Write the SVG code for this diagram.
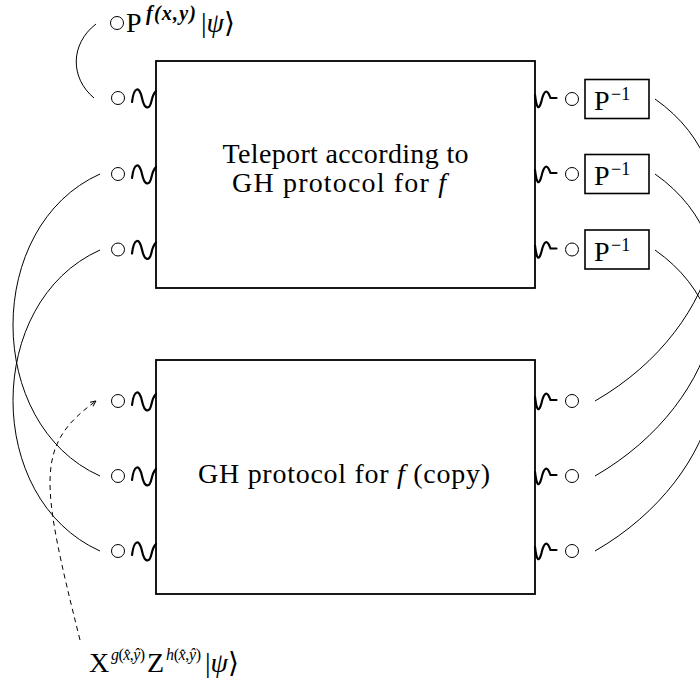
<svg xmlns="http://www.w3.org/2000/svg" width="700" height="682" viewBox="0 0 700 682">
<style>
.box{fill:none;stroke:#000;stroke-width:1.8}
.pbox{fill:#fff;stroke:#000;stroke-width:1.6}
.port{fill:#fff;stroke:#000;stroke-width:1}
.wire{fill:none;stroke:#000;stroke-width:1}
.dash{fill:none;stroke:#000;stroke-width:1;stroke-dasharray:5 4}
.sq{fill:none;stroke:#000;stroke-width:2.2;stroke-linecap:round}
text{font-family:"Liberation Serif","DejaVu Serif",serif;fill:#000}
.lbl{font-size:28px}
.sup{font-size:18px}
.it{font-style:italic}
</style>
<defs>
<path id="sqL" d="M-24,4 C-22,-12 -16.5,-12 -14,0 C-11.5,12 -6.5,12 -4.5,3 Q-3,-4 0,-7"/>
<path id="sqR" d="M0,-4 Q2.5,17 6.5,2 Q10.5,-15 15.5,-1 L21.5,-1"/>
<marker id="arr" viewBox="0 0 10 10" refX="9" refY="5" markerWidth="7" markerHeight="7" orient="auto" markerUnits="userSpaceOnUse">
<path d="M1,1.5 L9,5 L1,8.5" fill="none" stroke="#000" stroke-width="1.3" stroke-dasharray="none"/>
</marker>
</defs>

<g id="connectors">
<path class="wire" d="M96,24 C70,44 70,78 94,98"/>
<path class="wire" d="M100,174 C-16,226 -16,424 100,476"/>
<path class="wire" d="M100,250 C-16,302 -16,499 100,551"/>
<path class="wire" d="M655,99 C761.5,173.6 725,326 595,401"/>
<path class="wire" d="M655,174 C761.5,248.6 725,401 595,476"/>
<path class="wire" d="M655,250 C761.5,324.6 725,476 595,551"/>
<path class="dash" d="M80,640 C40,480 35,445 96,401" marker-end="url(#arr)"/>
</g>

<g id="label-top">
<circle class="port" cx="117" cy="23" r="6.5"/>
<text class="lbl" x="126" y="32">P<tspan class="it" font-weight="bold" font-size="20" x="146" y="20" textLength="50">f(x,y)</tspan><tspan x="201" y="32">|<tspan class="it">ψ</tspan>⟩</tspan></text>
</g>

<g id="teleport">
<rect class="box" x="156" y="61" width="379" height="227"/>
<text class="lbl" x="345.5" y="163" text-anchor="middle" textLength="246">Teleport according to</text>
<text class="lbl" x="339" y="192" text-anchor="middle" textLength="214">GH protocol for <tspan class="it">f</tspan></text>
</g>

<g id="copy">
<rect class="box" x="156" y="360" width="379" height="234"/>
<text class="lbl" x="344" y="483" text-anchor="middle" textLength="292">GH protocol for <tspan class="it">f</tspan> (copy)</text>
</g>

<g id="ports-left-top">
<circle class="port" cx="118" cy="98" r="6.5"/>
<circle class="port" cx="118" cy="174" r="6.5"/>
<circle class="port" cx="118" cy="249.5" r="6.5"/>
<use href="#sqL" class="sq" transform="translate(156,98)"/>
<use href="#sqL" class="sq" transform="translate(156,174)"/>
<use href="#sqL" class="sq" transform="translate(156,249.5)"/>
</g>

<g id="ports-left-bottom">
<circle class="port" cx="118" cy="401" r="6.5"/>
<circle class="port" cx="118" cy="476" r="6.5"/>
<circle class="port" cx="118" cy="551" r="6.5"/>
<use href="#sqL" class="sq" transform="translate(156,401)"/>
<use href="#sqL" class="sq" transform="translate(156,476)"/>
<use href="#sqL" class="sq" transform="translate(156,551)"/>
</g>

<g id="ports-right-top">
<use href="#sqR" class="sq" transform="translate(535,99)"/>
<use href="#sqR" class="sq" transform="translate(535,174)"/>
<use href="#sqR" class="sq" transform="translate(535,249.5)"/>
<circle class="port" cx="572" cy="99" r="6.5"/>
<circle class="port" cx="572" cy="174" r="6.5"/>
<circle class="port" cx="572" cy="249.5" r="6.5"/>
</g>

<g id="pinv1">
<rect class="pbox" x="585" y="79.5" width="64" height="39"/>
<text class="lbl" x="594" y="110">P<tspan class="sup" x="611" y="100">−1</tspan></text>
</g>
<g id="pinv2">
<rect class="pbox" x="585" y="154.5" width="64" height="39"/>
<text class="lbl" x="594" y="185">P<tspan class="sup" x="611" y="175">−1</tspan></text>
</g>
<g id="pinv3">
<rect class="pbox" x="585" y="230" width="64" height="39"/>
<text class="lbl" x="594" y="260.5">P<tspan class="sup" x="611" y="250.5">−1</tspan></text>
</g>

<g id="ports-right-bottom">
<use href="#sqR" class="sq" transform="translate(535,401)"/>
<use href="#sqR" class="sq" transform="translate(535,476)"/>
<use href="#sqR" class="sq" transform="translate(535,551)"/>
<circle class="port" cx="572" cy="401" r="6.5"/>
<circle class="port" cx="572" cy="476" r="6.5"/>
<circle class="port" cx="572" cy="551" r="6.5"/>
</g>

<g id="label-bottom">
<text class="lbl" x="89" y="672">X<tspan font-size="16" x="111" y="660" textLength="34"><tspan class="it">g</tspan>(<tspan class="it">x̂</tspan>,<tspan class="it">ŷ</tspan>)</tspan><tspan x="147" y="672">Z</tspan><tspan font-size="16" x="166" y="660" textLength="35"><tspan class="it">h</tspan>(<tspan class="it">x̂</tspan>,<tspan class="it">ŷ</tspan>)</tspan><tspan x="205" y="672">|<tspan class="it">ψ</tspan>⟩</tspan></text>
</g>
</svg>
